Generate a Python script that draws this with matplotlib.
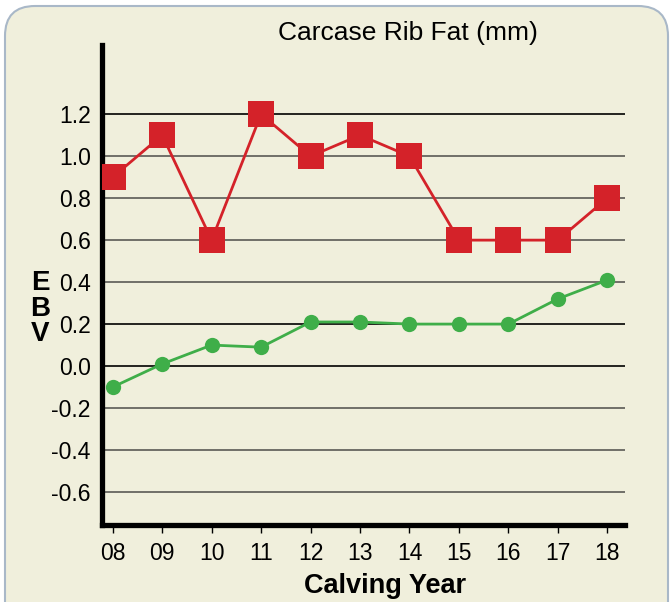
import matplotlib.pyplot as plt
from matplotlib.patches import FancyBboxPatch

plt.rcParams['font.family'] = ['Liberation Sans', 'DejaVu Sans']

years = ['08', '09', '10', '11', '12', '13', '14', '15', '16', '17', '18']
sire_ebv = [0.9, 1.1, 0.6, 1.2, 1.0, 1.1, 1.0, 0.6, 0.6, 0.6, 0.8]
breed_avg = [-0.1, 0.01, 0.1, 0.09, 0.21, 0.21, 0.2, 0.2, 0.2, 0.32, 0.41]
y_ticks = [-0.6, -0.4, -0.2, 0.0, 0.2, 0.4, 0.6, 0.8, 1.0, 1.2]

fig = plt.figure(figsize=(6.7, 6.02), dpi=100)
fig.patch.set_facecolor('white')

# rounded cream panel behind everything (pixel coords)
box = FancyBboxPatch((5, -40), 663, 636, boxstyle='round,pad=0,rounding_size=30',
                     transform=None, facecolor='#f0efdc', edgecolor='#a9b8c8',
                     linewidth=1.5, zorder=-5)
fig.patches.append(box)

ax = fig.add_axes([0.152, 0.128, 0.781, 0.797])
ax.set_facecolor('none')
ax.set_zorder(2)

x = list(range(len(years)))
for v in y_ticks:
    c = '#000000' if v in (0.0, 0.2, 1.2) else '#5a5a55'
    ax.axhline(v, color=c, lw=1.2, zorder=1)

ax.plot(x, sire_ebv, color='#d42229', lw=2, marker='s', markersize=19,
        markeredgewidth=0, zorder=3)
ax.plot(x, breed_avg, color='#3fae49', lw=2, marker='o', markersize=11,
        markeredgewidth=0, zorder=3)

ax.set_xlim(-0.22, 10.36)
ax.set_ylim(-0.757, 1.529)
ax.set_xticks(x)
ax.set_xticklabels(years, fontsize=16.5)
ax.set_yticks(y_ticks)
ax.set_yticklabels(['%.1f' % v for v in y_ticks], fontsize=16.5)
ax.tick_params(axis='x', length=6, width=1, pad=6)
ax.tick_params(axis='y', length=0, pad=8)

for s in ['top', 'right']:
    ax.spines[s].set_visible(False)
for s in ['left', 'bottom']:
    ax.spines[s].set_linewidth(3.8)

ax.set_xlabel('Calving Year', fontsize=19.5, fontweight='bold', labelpad=6)
ax.xaxis.label.set_x(0.541)
fig.text(0.06, 0.487, 'E\nB\nV', fontsize=20, fontweight='bold',
         ha='center', va='center', linespacing=0.98)
fig.text(0.609, 0.945, 'Carcase Rib Fat (mm)', fontsize=19, ha='center', va='center')

fig.savefig('out.png', dpi=100)
